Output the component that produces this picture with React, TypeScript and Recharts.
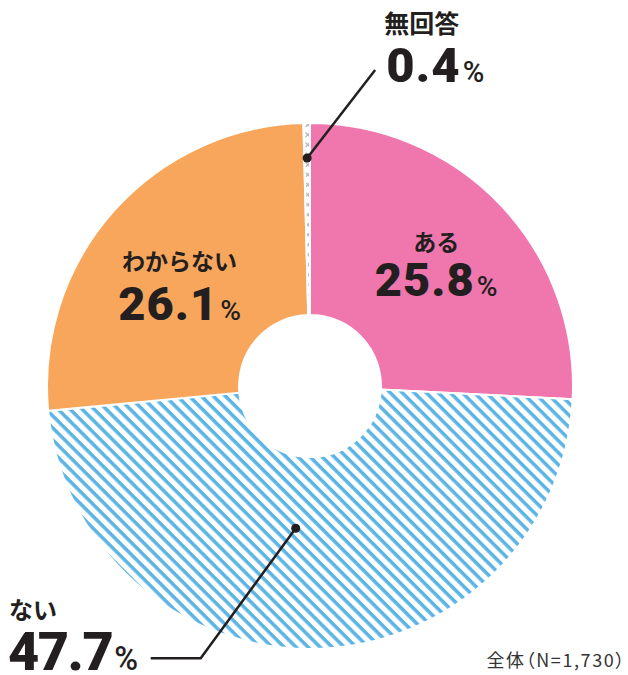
import React from 'react';
import { PieChart, Pie, Cell } from 'recharts';

const categories = ['ある', 'ない', 'わからない', '無回答'];
const values = [25.8, 47.7, 26.1, 0.4];
const valueLabels = ['25.8', '47.7', '26.1', '0.4'];
const fills = ['#ef77ae', 'url(#stripes)', '#f7a65c', 'url(#crosses)'];
const totalNote = '全体（N=1,730）';

const data = categories.map((name, i) => ({ name, value: values[i], label: valueLabels[i] }));

const TEXT = '#231f20';
const NUM_FONT = 'Roboto, "Noto Sans", sans-serif';
const JP_FONT = '"Noto Sans CJK JP", sans-serif';

const RAD = Math.PI / 180;
const polar = (cx: number, cy: number, r: number, angle: number) => ({
  x: cx + r * Math.cos(angle * RAD),
  y: cy - r * Math.sin(angle * RAD),
});

type TextProps = { x: number; y: number; value: string; size: number; anchor: 'start' | 'middle'; spacing?: number };

const ValueText = ({ x, y, value, size, anchor, spacing = 1 }: TextProps) => (
  <text x={x} y={y} textAnchor={anchor} fill={TEXT} fontFamily={NUM_FONT}>
    <tspan fontSize={size} fontWeight={900} letterSpacing={spacing}>{value}</tspan>
    <tspan fontSize={size * 0.6} fontWeight={500} dx={2}>%</tspan>
  </text>
);

const CatText = ({ x, y, value, size, anchor }: TextProps) => (
  <text x={x} y={y} textAnchor={anchor} fill={TEXT} fontFamily={JP_FONT} fontWeight={700} fontSize={size}>
    {value}
  </text>
);

const renderLabel = (props: any) => {
  const { cx, cy, midAngle, index, payload } = props;
  const name = payload?.name ?? categories[index];
  const label = payload?.label ?? valueLabels[index];

  if (index === 0 || index === 2) {
    // inside labels
    const p = polar(cx, cy, index === 0 ? 170 : 165, midAngle);
    const dx = index === 0 ? 3 : -7;
    const catY = index === 0 ? p.y - 18 : p.y - 6;
    const numY = index === 0 ? p.y + 27 : p.y + 44;
    return (
      <g key={`lbl-${index}`}>
        <CatText x={p.x + dx} y={catY} value={name} size={23} anchor="middle" />
        <ValueText x={p.x + dx} y={numY} value={label} size={47} anchor="middle" />
      </g>
    );
  }

  if (index === 3) {
    // 無回答: leader line up-right
    const dot = polar(cx, cy, 228, midAngle);
    const end = { x: dot.x + 68, y: dot.y - 88 };
    return (
      <g key={`lbl-${index}`}>
        <line x1={dot.x} y1={dot.y} x2={end.x} y2={end.y} stroke={TEXT} strokeWidth={2.5} />
        <circle cx={dot.x} cy={dot.y} r={4.5} fill={TEXT} />
        <CatText x={end.x + 9} y={end.y - 37} value={name} size={25} anchor="start" />
        <ValueText x={end.x + 11} y={end.y + 12} value={label} size={49} anchor="start" />
      </g>
    );
  }

  // ない: leader line down-left then horizontal
  const dot = polar(cx, cy, 143, midAngle - 7);
  const elbow = { x: dot.x - 95, y: dot.y + 130 };
  const end = { x: elbow.x - 50, y: elbow.y };
  return (
    <g key={`lbl-${index}`}>
      <polyline
        points={`${dot.x},${dot.y} ${elbow.x},${elbow.y} ${end.x},${end.y}`}
        fill="none"
        stroke={TEXT}
        strokeWidth={2.5}
      />
      <circle cx={dot.x} cy={dot.y} r={4.5} fill={TEXT} />
      <CatText x={9} y={end.y - 39} value={name} size={24} anchor="start" />
      <ValueText x={8} y={end.y + 12} value={label} size={54} anchor="start" spacing={-1.5} />
    </g>
  );
};

export default function App() {
  return (
    <div style={{ position: 'absolute', left: 0, top: 0, width: 628, height: 675, background: '#fff' }}>
      <PieChart width={628} height={675} margin={{ top: 0, right: 0, bottom: 0, left: 0 }}>
        <defs>
          <pattern id="stripes" width="8.5" height="8.5" patternUnits="userSpaceOnUse" patternTransform="rotate(45)">
            <rect width="8.5" height="8.5" fill="#fff" />
            <rect width="8.5" height="3.5" fill="#5ab4e6" />
          </pattern>
          <pattern id="crosses" width="8" height="10" patternUnits="userSpaceOnUse">
            <rect width="8" height="10" fill="#fff" />
            <path d="M1.5 2.5 L6 7 M6 2.5 L1.5 7" stroke="#b8b8b8" strokeWidth={1.3} />
          </pattern>
        </defs>
        <Pie
          data={data}
          dataKey="value"
          nameKey="name"
          cx={310}
          cy={386}
          outerRadius={263}
          innerRadius={71}
          startAngle={90}
          endAngle={-270}
          stroke="#fff"
          strokeWidth={2}
          label={renderLabel}
          labelLine={false}
          isAnimationActive={false}
        >
          {data.map((d, i) => (
            <Cell key={d.name} fill={fills[i]} />
          ))}
        </Pie>
        <text
          x={626}
          y={667}
          textAnchor="end"
          fill="#333"
          fontFamily={JP_FONT}
          fontSize={18}
          letterSpacing={1.6}
          style={{ fontFeatureSettings: '"palt"' }}
        >
          {totalNote}
        </text>
      </PieChart>
    </div>
  );
}
